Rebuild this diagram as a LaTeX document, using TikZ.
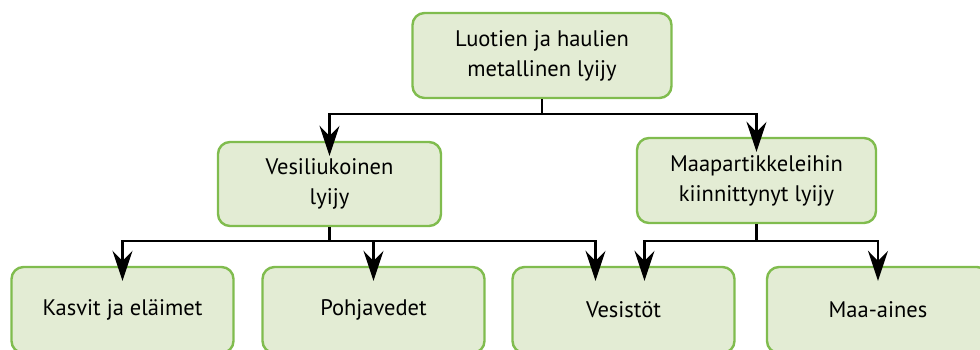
\documentclass[tikz,border=0pt]{standalone}
\usepackage{fontspec}
\setmainfont{PT Sans}
\usetikzlibrary{arrows.meta}
\definecolor{boxfill}{HTML}{E3ECD4}
\definecolor{boxline}{HTML}{80BC4E}
\tikzset{
  gbox/.style={draw=boxline, line width=2.4pt, fill=boxfill, rounded corners=12pt,
    align=center, inner sep=0pt, font=\fontsize{22.5}{30}\selectfont},
  conn/.style={draw=black, line width=2.2pt, -{Stealth[length=30pt,width=20pt,inset=10pt]}},
  line/.style={draw=black, line width=2.2pt}
}
\begin{document}
\begin{tikzpicture}[x=1pt,y=-1pt]
\useasboundingbox (0,0) rectangle (980,349);
\clip (0,0) rectangle (980,349);
\node[gbox, minimum width=259pt, minimum height=85pt] (top) at (542,55.5) {Luotien ja haulien\\metallinen lyijy};
\node[gbox, minimum width=223pt, minimum height=84pt] (ml) at (329.5,184) {Vesiliukoinen\\lyijy};
\node[gbox, minimum width=239pt, minimum height=85pt] (mr) at (756.5,180.5) {Maapartikkeleihin\\kiinnittynyt lyijy};
\node[gbox, minimum width=222pt, minimum height=86pt] (b1) at (122.5,310) {Kasvit ja eläimet};
\node[gbox, minimum width=222pt, minimum height=86pt] (b2) at (373.5,310) {Pohjavedet};
\node[gbox, minimum width=222pt, minimum height=86pt] (b3) at (623.5,310) {Vesistöt};
\node[gbox, minimum width=222pt, minimum height=86pt] (b4) at (878,310) {Maa-aines};
\coordinate (j0) at (542,114);
\coordinate (j1) at (329.5,241);
\coordinate (j2) at (756.5,241);
\draw[line] (top.south) -- (j0);
\draw[conn] (j0) -| ([yshift=-15pt]ml.north);
\draw[conn] (j0) -| ([yshift=-15pt]mr.north);
\draw[line] (ml.south) -- (j1);
\draw[conn] (j1) -| ([yshift=-15pt]b1.north);
\draw[conn] (j1) -| ([yshift=-15pt]b2.north);
\draw[conn] (j1) -| ([xshift=-28pt,yshift=-15pt]b3.north);
\draw[line] (mr.south) -- (j2);
\draw[conn] (j2) -| ([xshift=21pt,yshift=-15pt]b3.north);
\draw[conn] (j2) -| ([yshift=-15pt]b4.north);
\end{tikzpicture}
\end{document}
